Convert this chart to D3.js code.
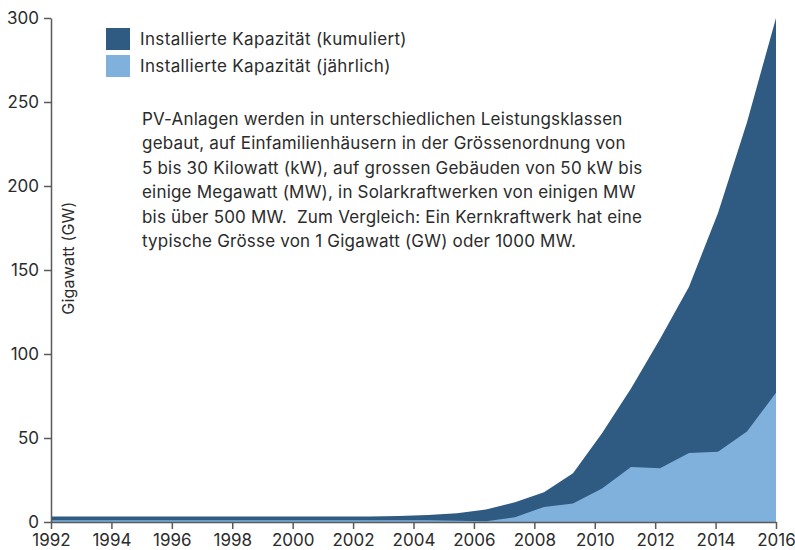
<!DOCTYPE html>
<html>
<head>
  <meta charset="UTF-8">
  <style>
    body { margin: 0; background: #fff; }
    svg text { font-family: Inter, "Open Sans", sans-serif; fill: #2b2b2b; }
  </style>
</head>
<body>
  <svg id="chart" width="795" height="550"></svg>
  <script src="https://d3js.org/d3.v7.min.js"></script>
  <script>
    let width = 795, height = 550;

    // Data (GW), one value per year
    const years = d3.range(1991, 2017);
    const cumulative = [3.2, 3.2, 3.2, 3.2, 3.2, 3.2, 3.2, 3.2, 3.2, 3.2, 3.2, 3.3, 3.6,
                        4.2, 5.2, 7.5, 11.8, 17.7, 29, 52.8, 79.5, 109, 140, 184, 238, 300];
    const annual = [1, 1, 1, 1, 1, 1, 1, 1, 1, 1, 1, 1, 1,
                    1, 0.8, 0.5, 2.8, 9, 11, 20, 32.7, 32, 41, 41.8, 53.8, 77];

    const yTicks = [0, 50, 100, 150, 200, 250, 300];
    const xTicks = d3.range(1992, 2017, 2);

    const seriesNames = ["Installierte Kapazität (kumuliert)", "Installierte Kapazität (jährlich)"];
    const seriesColors = ["#2f5b82", "#80b1dd"];

    const note = [
      "PV-Anlagen werden in unterschiedlichen Leistungsklassen",
      "gebaut, auf Einfamilienhäusern in der Grössenordnung von",
      "5 bis 30 Kilowatt (kW), auf grossen Gebäuden von 50 kW bis",
      "einige Megawatt (MW), in Solarkraftwerken von einigen MW",
      "bis über 500 MW.  Zum Vergleich: Ein Kernkraftwerk hat eine",
      "typische Grösse von 1 Gigawatt (GW) oder 1000 MW."
    ];

    let svg = d3.select("#chart");

    let y = d3.scaleLinear().domain([0, 300]).range([522, 18]);
    let xAxisScale = d3.scaleLinear().domain([1992, 2016]).range([51, 776]);
    let xData = d3.scalePoint().domain(years).range([51, 776]);

    let rows = years.map((yr, i) => ({ year: yr, cum: cumulative[i], ann: annual[i] }));

    let area = key => d3.area()
      .x(d => xData(d.year))
      .y0(y(0))
      .y1(d => y(d[key]));

    svg.append("path")
      .datum(rows)
      .attr("fill", seriesColors[0])
      .attr("d", area("cum"));

    svg.append("path")
      .datum(rows)
      .attr("fill", seriesColors[1])
      .attr("d", area("ann"));

    // axes
    let yAxis = svg.append("g")
      .attr("transform", "translate(51,0)")
      .call(d3.axisLeft(y).tickValues(yTicks).tickSize(7).tickSizeOuter(0).tickPadding(5));

    let xAxis = svg.append("g")
      .attr("transform", "translate(0,522)")
      .call(d3.axisBottom(xAxisScale).tickValues(xTicks).tickFormat(d3.format("d"))
        .tickSize(7).tickSizeOuter(0).tickPadding(5));

    [yAxis, xAxis].forEach(ax => {
      ax.select(".domain").attr("stroke", "#5a5a5a").attr("stroke-width", 1.5);
      ax.selectAll(".tick line").attr("stroke", "#5a5a5a").attr("stroke-width", 1.5);
      ax.selectAll(".tick text").attr("font-size", 17).attr("fill", "#2b2b2b")
        .style("font-family", "Inter, sans-serif");
    });

    svg.append("text")
      .attr("transform", "translate(74,258) rotate(-90)")
      .attr("text-anchor", "middle")
      .attr("font-size", 16)
      .style("letter-spacing", "0.2px")
      .text("Gigawatt (GW)");

    // legend
    let legend = svg.append("g").selectAll("g")
      .data(seriesNames)
      .enter()
      .append("g")
      .attr("transform", (d, i) => "translate(106," + (28 + i * 27) + ")");

    legend.append("rect")
      .attr("width", 24)
      .attr("height", 22)
      .attr("fill", (d, i) => seriesColors[i]);

    legend.append("text")
      .attr("x", 34)
      .attr("y", 11)
      .attr("dy", "0.35em")
      .attr("font-size", 17)
      .style("letter-spacing", "0.35px")
      .text(d => d);

    // explanatory note
    svg.append("g").selectAll("text")
      .data(note)
      .enter()
      .append("text")
      .attr("x", 142)
      .attr("y", (d, i) => 125 + i * 24.4)
      .attr("font-size", 17)
      .style("letter-spacing", "0.2px")
      .style("white-space", "pre")
      .text(d => d);
  </script>
</body>
</html>
